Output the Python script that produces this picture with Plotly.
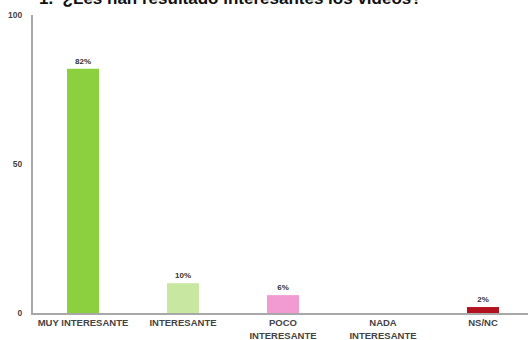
import plotly.graph_objects as go

categories = ["MUY INTERESANTE", "INTERESANTE", "POCO<br>INTERESANTE", "NADA<br>INTERESANTE", "NS/NC"]
percentages = [82, 10, 6, 0, 2]
bar_colors = ["#8ccf3f", "#c8e8a2", "#f29bd3", "#9aa0a0", "#b3121f"]
y_ticks = [0, 50, 100]
title_text = "1.  ¿Les han resultado interesantes los vídeos?"

labels = [f"{v}%" if v > 0 else "" for v in percentages]

fig = go.Figure(
    go.Bar(
        x=categories,
        y=percentages,
        marker=dict(color=bar_colors, line=dict(width=0)),
        text=labels,
        textposition="outside",
        cliponaxis=False,
        textfont=dict(family="Arial, Liberation Sans, sans-serif", size=8, color="#333333", weight="bold"),
        width=0.32,
    )
)

fig.update_layout(
    width=528,
    height=340,
    margin=dict(l=33, r=0, t=15, b=27),
    paper_bgcolor="white",
    plot_bgcolor="white",
    showlegend=False,
    font=dict(family="Arial, Liberation Sans, sans-serif", color="#333333"),
    xaxis=dict(
        range=[-0.5, 4.45],
        showline=True,
        linecolor="#a8a8a8",
        linewidth=2,
        showgrid=False,
        ticks="",
        tickfont=dict(size=9.5, color="#444444", weight="bold"),
        tickangle=0,
        fixedrange=True,
    ),
    yaxis=dict(
        range=[0, 100],
        tickvals=y_ticks,
        showline=True,
        linecolor="#a8a8a8",
        linewidth=2,
        showgrid=False,
        zeroline=False,
        ticks="outside",
        ticklen=7,
        tickcolor="white",
        tickfont=dict(size=8.5, color="#444444", weight="bold"),
        fixedrange=True,
    ),
    annotations=[
        dict(
            text=f"<b>{title_text}</b>",
            x=0.008,
            xref="paper",
            xanchor="left",
            y=1,
            yref="paper",
            yanchor="bottom",
            yshift=5,
            showarrow=False,
            font=dict(size=17, color="#111111"),
        )
    ],
)

fig.write_html("out.html")
